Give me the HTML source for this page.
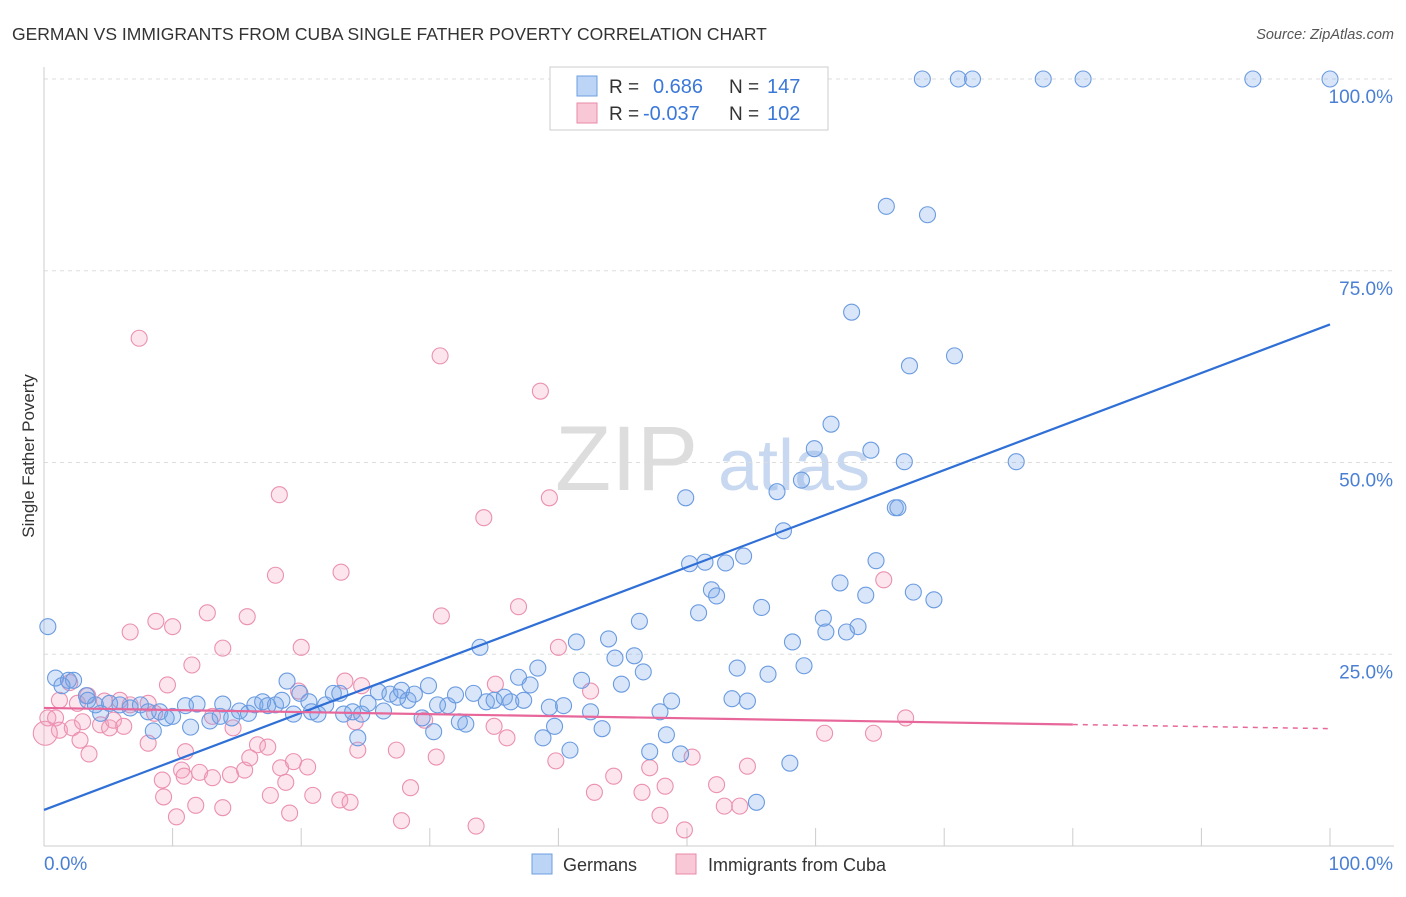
<!DOCTYPE html>
<html><head><meta charset="utf-8"><style>
body{margin:0;background:#fff;font-family:"Liberation Sans",sans-serif;}
svg text{font-family:"Liberation Sans",sans-serif;}
</style></head><body>
<svg id="chart" width="1406" height="892" xmlns="http://www.w3.org/2000/svg">
<text x="12" y="40" font-size="17.5" fill="#333">GERMAN VS IMMIGRANTS FROM CUBA SINGLE FATHER POVERTY CORRELATION CHART</text>
<text x="1394" y="39" font-size="14.5" fill="#555" font-style="italic" text-anchor="end">Source: ZipAtlas.com</text>
<text transform="translate(34,456) rotate(-90)" font-size="17" fill="#333" text-anchor="middle">Single Father Poverty</text>
<g>
<text x="555" y="490" font-size="92" fill="#ddd" font-family="Liberation Serif,serif">ZIP</text>
<text x="718" y="490" font-size="72" fill="#c8d8f0">atlas</text>
</g>
<g id="grid"></g>
<g id="axes"></g>
<g id="pinkpts"></g>
<g id="bluepts"></g>
<g id="lines"></g>
<g>
<rect x="550" y="67" width="278" height="63" fill="#fff" stroke="#ccc"/>
<rect x="577" y="76" width="20" height="20" fill="#bcd4f5" stroke="#6d9ee0"/>
<rect x="577" y="103" width="20" height="20" fill="#f8c8d6" stroke="#e88aa8"/>
<text x="609" y="93" font-size="19" fill="#333">R =</text>
<text x="653" y="93" font-size="20" fill="#3b78d8">0.686</text>
<text x="729" y="93" font-size="19" fill="#333">N =</text>
<text x="767" y="93" font-size="20" fill="#3b78d8">147</text>
<text x="609" y="120" font-size="19" fill="#333">R =</text>
<text x="643" y="120" font-size="20" fill="#3b78d8">-0.037</text>
<text x="729" y="120" font-size="19" fill="#333">N =</text>
<text x="767" y="120" font-size="20" fill="#3b78d8">102</text>
</g>
<g>
<rect x="532" y="854" width="20" height="20" fill="#bcd4f5" stroke="#6d9ee0"/>
<text x="563" y="871" font-size="18" fill="#333">Germans</text>
<rect x="676" y="854" width="20" height="20" fill="#f8c8d6" stroke="#e88aa8"/>
<text x="708" y="871" font-size="18" fill="#333">Immigrants from Cuba</text>
</g>
</svg>
<script>
const yTicks=[25,50,75,100];
const yTickLabels=["25.0%","50.0%","75.0%","100.0%"];
const xTickVals=[0,10,20,30,40,50,60,70,80,90,100];
const xEndLabels=["0.0%","100.0%"];
const blueX=[68.3,71.1,72.2,77.7,80.8,94.0,100,65.5,68.7,62.8,67.3,70.8,61.2,59.9,64.3,66.9,75.6,49.9,57.0,58.9,66.2,66.4,57.5,54.4,50.2,51.4,53.0,64.7,61.9,51.9,52.3,63.9,67.6,69.2,55.8,50.9,46.3,60.6,60.8,62.4,63.3,41.4,43.9,58.2,33.9,44.4,45.9,59.1,53.9,56.3,38.4,46.6,36.9,41.8,44.9,37.8,0.3,0.9,1.9,2.3,1.4,18.9,3.3,3.4,4.4,4.0,5.1,5.9,6.7,7.5,8.1,9.0,10.0,11.0,11.9,11.4,12.9,13.7,13.9,14.6,15.2,15.9,16.4,17.0,17.4,18.0,18.5,19.4,19.9,20.6,20.8,21.3,21.9,22.5,23.0,23.3,24.0,24.4,24.7,25.2,26.0,26.4,26.9,27.5,27.8,28.3,28.8,29.4,29.9,30.3,30.6,31.4,32.0,32.3,32.8,33.4,34.4,35.0,35.8,36.3,37.3,38.8,39.3,39.7,40.4,40.9,42.5,43.4,47.1,47.9,48.4,48.8,49.5,53.5,54.7,58.0,55.4,8.5,9.5];
const blueY=[100,100,100,100,100,100,100,83.4,82.3,69.6,62.6,63.9,55.0,51.8,51.6,50.1,50.1,45.4,46.2,47.7,44.1,44.1,41.1,37.8,36.8,37.0,36.9,37.2,34.3,33.4,32.6,32.7,33.1,32.1,31.1,30.4,29.3,29.7,27.9,27.9,28.6,26.6,27.0,26.6,25.9,24.5,24.8,23.5,23.2,22.4,23.2,22.7,22.0,21.6,21.1,21.0,28.6,21.9,21.6,21.6,20.9,21.5,19.6,19.0,17.3,18.4,18.6,18.4,18.0,18.4,17.5,17.5,16.9,18.3,18.5,15.5,16.3,16.9,18.5,16.7,17.6,17.3,18.4,18.8,18.3,18.4,19.0,17.2,19.9,18.8,17.5,17.2,18.4,19.9,19.9,17.2,17.5,14.1,17.2,18.6,20.1,17.6,19.8,19.4,20.3,19.0,19.8,16.7,20.9,14.9,18.4,18.3,19.7,16.2,15.9,19.9,18.8,19.0,19.4,18.8,19.0,14.1,18.1,15.6,18.3,12.5,17.5,15.3,12.3,17.5,14.5,18.9,12.0,19.2,18.9,10.8,5.7,15.0,16.7];
const pinkX=[7.4,30.8,38.6,18.3,39.3,34.2,18.0,23.1,65.3,36.9,12.7,15.8,30.9,8.7,10.0,6.7,13.9,20.0,40.0,11.5,23.4,24.7,35.1,9.6,1.2,2.0,19.8,42.5,2.6,3.4,4.7,5.9,6.7,8.1,8.6,0.3,0.9,1.2,2.2,3.0,0.1,4.4,5.1,5.4,6.2,8.1,3.5,2.8,13.1,14.7,11.0,16.6,17.4,24.2,24.4,27.4,30.5,29.6,35.0,36.0,39.8,9.2,10.7,10.9,12.1,13.1,14.5,15.6,16.0,18.4,19.4,20.5,18.8,9.3,11.8,13.9,10.3,17.6,19.1,20.9,23.0,23.8,28.5,27.8,33.6,42.8,44.3,46.5,47.1,48.3,47.9,49.8,50.4,52.3,52.9,54.1,54.7,60.7,64.5,67.0];
const pinkY=[66.2,63.9,59.3,45.8,45.4,42.8,35.3,35.7,34.7,31.2,30.4,29.9,30.0,29.3,28.6,27.9,25.8,25.9,25.9,23.6,21.5,20.9,21.1,21.0,19.0,21.3,20.2,20.2,18.6,19.6,18.9,19.0,18.4,18.6,17.3,16.7,16.7,15.1,15.4,16.2,14.7,15.8,15.4,16.4,15.6,13.4,12.0,13.8,16.9,15.4,12.3,13.2,12.9,16.2,12.5,12.5,11.6,16.4,15.6,14.1,11.1,8.6,9.9,9.1,9.6,8.9,9.3,9.9,11.5,10.2,11.0,10.3,8.3,6.4,5.3,5.0,3.8,6.6,4.3,6.6,6.0,5.7,7.6,3.3,2.6,7.0,9.1,7.0,10.2,7.8,4.0,2.1,11.6,8.0,5.2,5.2,10.4,14.7,14.7,16.7];
const blueTrend=[4.7,68.0];
const pinkTrend=[18.0,15.3];
const pinkSolidEnd=80;

const NS="http://www.w3.org/2000/svg";
const X0=44,X1=1330,Y0=846,Y1=79;
function sx(v){return X0+(X1-X0)*v/100;}
function sy(v){return Y0-(Y0-Y1)*v/100;}
function mk(tag,attrs,parent){const e=document.createElementNS(NS,tag);for(const k in attrs)e.setAttribute(k,attrs[k]);parent.appendChild(e);return e;}
const grid=document.getElementById('grid'),axes=document.getElementById('axes');
yTicks.forEach((t,i)=>{
 const l=mk('line',{x1:44,x2:1394,y1:sy(t),y2:sy(t),stroke:'#ddd','stroke-dasharray':'4,4'},grid);
 
 
 const tx=mk('text',{x:1393,y:sy(t)+24,'font-size':19,fill:'#4a7fd4','text-anchor':'end'},axes);
 tx.textContent=yTickLabels[i];
 
 
});
const yax=mk('line',{x1:44,x2:44,y1:67,y2:846,stroke:'#ccc'},axes);


const xax=mk('line',{x1:44,x2:1394,y1:846,y2:846,stroke:'#ccc'},axes);


xTickVals.forEach(t=>{
 const l=mk('line',{x1:sx(t),x2:sx(t),y1:828,y2:846,stroke:'#ccc'},axes);
 
 
});
const xl0=mk('text',{x:44,y:870,'font-size':19,fill:'#4a7fd4'},axes);
xl0.textContent=xEndLabels[0];


const xl1=mk('text',{x:1393,y:870,'font-size':19,fill:'#4a7fd4','text-anchor':'end'},axes);
xl1.textContent=xEndLabels[1];


const pg=document.getElementById('pinkpts');
pinkX.forEach((x,i)=>{
 const c=mk('circle',{cx:sx(x),cy:sy(pinkY[i]),r:i==40?12:8,fill:'rgba(244,160,190,0.28)',stroke:'#eb90b0','stroke-width':1.1},pg);
 
 
});
const bg=document.getElementById('bluepts');
blueX.forEach((x,i)=>{
 const c=mk('circle',{cx:sx(x),cy:sy(blueY[i]),r:8,fill:'rgba(120,165,235,0.28)',stroke:'#6a9be0','stroke-width':1.1},bg);
 
 
});
const lg=document.getElementById('lines');
const bl=mk('line',{x1:sx(0),y1:sy(blueTrend[0]),x2:sx(100),y2:sy(blueTrend[1]),stroke:'#2f6fd6','stroke-width':2.2},lg);


const pm=pinkTrend[0]+(pinkTrend[1]-pinkTrend[0])*pinkSolidEnd/100;
const pl=mk('line',{x1:sx(0),y1:sy(pinkTrend[0]),x2:sx(pinkSolidEnd),y2:sy(pm),stroke:'#e8679a','stroke-width':2.2},lg);


const pd=mk('line',{x1:sx(pinkSolidEnd),y1:sy(pm),x2:sx(100),y2:sy(pinkTrend[1]),stroke:'#e8679a','stroke-width':1.5,'stroke-dasharray':'5,5'},lg);


</script>
</body></html>
